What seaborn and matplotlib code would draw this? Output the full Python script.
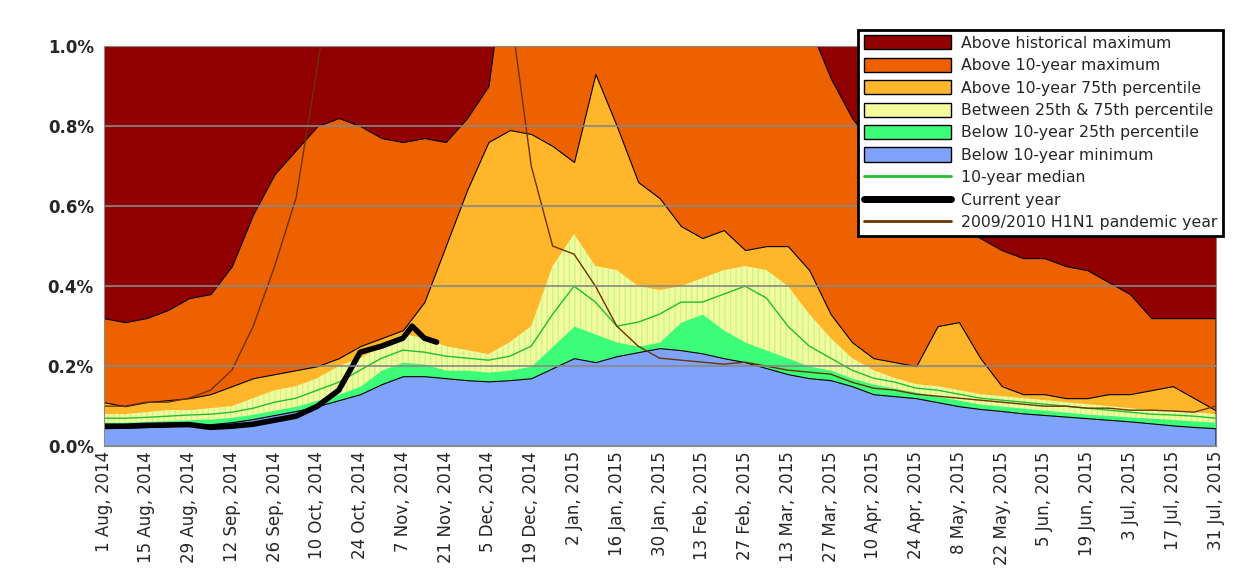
import numpy as np
import pandas as pd
import seaborn as sns
import matplotlib.pyplot as plt
from matplotlib.patches import Patch
from matplotlib.lines import Line2D
from matplotlib.ticker import FuncFormatter

# weekly days since 1 Aug 2014
days = list(range(0, 365, 7))

hist_max = [0.32, 0.31, 0.32, 0.34, 0.37, 0.38, 0.45, 0.58, 0.68, 0.74, 0.80, 0.82, 0.80, 0.77,
            0.76, 0.77, 0.76, 0.82, 0.90, 1.3, 1.3, 1.3, 1.3, 1.3, 1.3, 1.3, 1.3, 1.3, 1.3, 1.3,
            1.3, 1.3, 1.3, 1.05, 0.92, 0.82, 0.75, 0.70, 0.62, 0.58, 0.55, 0.52, 0.49, 0.47,
            0.47, 0.45, 0.44, 0.41, 0.38, 0.32, 0.32, 0.32, 0.32]
max10 = [0.11, 0.10, 0.11, 0.115, 0.12, 0.13, 0.15, 0.17, 0.18, 0.19, 0.20, 0.22, 0.25, 0.27,
         0.29, 0.36, 0.50, 0.64, 0.76, 0.79, 0.78, 0.75, 0.71, 0.93, 0.80, 0.66, 0.62, 0.55,
         0.52, 0.54, 0.49, 0.50, 0.50, 0.44, 0.33, 0.26, 0.22, 0.21, 0.20, 0.30, 0.31, 0.22,
         0.15, 0.13, 0.13, 0.12, 0.12, 0.13, 0.13, 0.14, 0.15, 0.12, 0.09]
p75 = [0.08, 0.08, 0.085, 0.09, 0.09, 0.095, 0.10, 0.12, 0.14, 0.15, 0.17, 0.20, 0.22, 0.25,
       0.28, 0.27, 0.25, 0.24, 0.23, 0.26, 0.30, 0.45, 0.53, 0.45, 0.44, 0.40, 0.39, 0.40,
       0.42, 0.44, 0.45, 0.44, 0.40, 0.33, 0.27, 0.22, 0.19, 0.17, 0.155, 0.15, 0.14, 0.13,
       0.125, 0.12, 0.115, 0.11, 0.105, 0.10, 0.095, 0.09, 0.088, 0.085, 0.08]
p25 = [0.06, 0.06, 0.062, 0.064, 0.066, 0.068, 0.072, 0.08, 0.09, 0.10, 0.115, 0.13, 0.15,
       0.19, 0.21, 0.205, 0.19, 0.19, 0.185, 0.19, 0.20, 0.25, 0.30, 0.28, 0.26, 0.25, 0.26,
       0.31, 0.33, 0.29, 0.26, 0.24, 0.22, 0.20, 0.19, 0.17, 0.155, 0.145, 0.135, 0.125, 0.115,
       0.105, 0.10, 0.095, 0.09, 0.085, 0.08, 0.077, 0.073, 0.07, 0.067, 0.063, 0.06]
min10 = [0.045, 0.046, 0.048, 0.05, 0.052, 0.055, 0.06, 0.068, 0.078, 0.088, 0.10, 0.115, 0.13,
         0.155, 0.175, 0.175, 0.17, 0.165, 0.162, 0.165, 0.17, 0.195, 0.22, 0.21, 0.225, 0.235,
         0.245, 0.24, 0.232, 0.22, 0.21, 0.195, 0.18, 0.17, 0.165, 0.15, 0.13, 0.125, 0.12,
         0.11, 0.10, 0.093, 0.088, 0.082, 0.078, 0.074, 0.07, 0.066, 0.062, 0.057, 0.052,
         0.048, 0.045]
median = [0.07, 0.07, 0.072, 0.075, 0.078, 0.08, 0.085, 0.095, 0.11, 0.12, 0.14, 0.16, 0.19,
          0.22, 0.24, 0.235, 0.225, 0.22, 0.215, 0.225, 0.25, 0.33, 0.40, 0.36, 0.30, 0.31,
          0.33, 0.36, 0.36, 0.38, 0.40, 0.37, 0.30, 0.25, 0.22, 0.19, 0.17, 0.16, 0.145, 0.14,
          0.13, 0.12, 0.115, 0.11, 0.105, 0.10, 0.095, 0.09, 0.085, 0.08, 0.078, 0.075, 0.07]
pandemic = [0.10, 0.10, 0.11, 0.11, 0.12, 0.14, 0.19, 0.30, 0.45, 0.62, 0.95, 1.3, 1.3, 1.3,
            1.3, 1.3, 1.3, 1.3, 1.3, 1.1, 0.70, 0.50, 0.48, 0.40, 0.30, 0.25, 0.22, 0.215,
            0.21, 0.205, 0.21, 0.20, 0.19, 0.185, 0.18, 0.16, 0.145, 0.14, 0.13, 0.125, 0.12,
            0.115, 0.11, 0.105, 0.10, 0.10, 0.095, 0.095, 0.09, 0.09, 0.088, 0.085, 0.10]

cur_days = [0, 7, 14, 21, 28, 35, 42, 49, 56, 63, 70, 77, 84, 91, 98, 101, 105, 109]
current = [0.05, 0.05, 0.052, 0.053, 0.054, 0.047, 0.05, 0.055, 0.065, 0.075, 0.10, 0.14,
           0.235, 0.25, 0.27, 0.30, 0.27, 0.26]

start = pd.Timestamp("2014-08-01")
dates = start + pd.to_timedelta(days, unit="D")
cur_dates = start + pd.to_timedelta(cur_days, unit="D")

sns.set_style("white")
fig = plt.figure(figsize=(12.48, 5.75), dpi=100)
ax = fig.add_axes([0.083, 0.224, 0.891, 0.696])

c_red, c_or, c_lor = "#900000", "#ee6100", "#ffb62a"
c_yel, c_grn, c_blu = "#f3fb9c", "#3cfc78", "#7fa3fa"

ax.fill_between(dates, 0, 1.5, color=c_red, lw=0)
ax.fill_between(dates, 0, hist_max, color=c_or, edgecolor="black", lw=0.8)
ax.fill_between(dates, 0, max10, color=c_lor, edgecolor="black", lw=0.8)
ax.fill_between(dates, 0, p75, facecolor=c_yel, edgecolor="#c9f590", hatch="|||", lw=0)
ax.fill_between(dates, 0, p25, color=c_grn, lw=0)
ax.fill_between(dates, 0, min10, color=c_blu, edgecolor="black", lw=0.8)

sns.lineplot(x=dates, y=median, color="#20c030", lw=1, ax=ax)
sns.lineplot(x=dates, y=pandemic, color="#6b3300", lw=1, ax=ax)
sns.lineplot(x=cur_dates, y=current, color="black", lw=4, ax=ax)

ax.set_xlim(dates[0], dates[-1])
ax.set_ylim(0, 1.0)
ax.set_xlabel("")
ax.set_ylabel("")
ax.set_yticks(np.arange(0, 1.01, 0.2))
ax.yaxis.set_major_formatter(FuncFormatter(lambda v, p: f"{v:.1f}%"))
ax.grid(axis="y", color="#888888", lw=1.2)
ax.set_axisbelow(False)
ticks = start + pd.to_timedelta(list(range(0, 365, 14)), unit="D")
ax.set_xticks(ticks)
ax.set_xticklabels([f"{t.day} {t.strftime('%b')}, {t.year}" for t in ticks],
                   rotation=90, fontsize=12)
for lab in ax.get_yticklabels():
    lab.set_fontweight("bold")
    lab.set_fontsize(12)
ax.tick_params(axis="x", length=4, direction="in")
for s in ax.spines.values():
    s.set_color("#888888")

handles = [Patch(facecolor=c_red, edgecolor="black", label="Above historical maximum"),
           Patch(facecolor=c_or, edgecolor="black", label="Above 10-year maximum"),
           Patch(facecolor=c_lor, edgecolor="black", label="Above 10-year 75th percentile"),
           Patch(facecolor=c_yel, edgecolor="black", label="Between 25th & 75th percentile"),
           Patch(facecolor=c_grn, edgecolor="black", label="Below 10-year 25th percentile"),
           Patch(facecolor=c_blu, edgecolor="black", label="Below 10-year minimum"),
           Line2D([], [], color="#20c030", lw=2, label="10-year median"),
           Line2D([], [], color="black", lw=5, label="Current year"),
           Line2D([], [], color="#6b3300", lw=2, label="2009/2010 H1N1 pandemic year")]
leg = fig.legend(handles=handles, loc="upper right", bbox_to_anchor=(0.986, 0.962),
                 fontsize=11.3, frameon=True, fancybox=False, handlelength=5.6,
                 handleheight=1.0, labelspacing=0.45, borderpad=0.35, handletextpad=0.6)
leg.get_frame().set_edgecolor("black")
leg.get_frame().set_linewidth(2)
leg.get_frame().set_alpha(1)

fig.savefig("out.png", dpi=100)
